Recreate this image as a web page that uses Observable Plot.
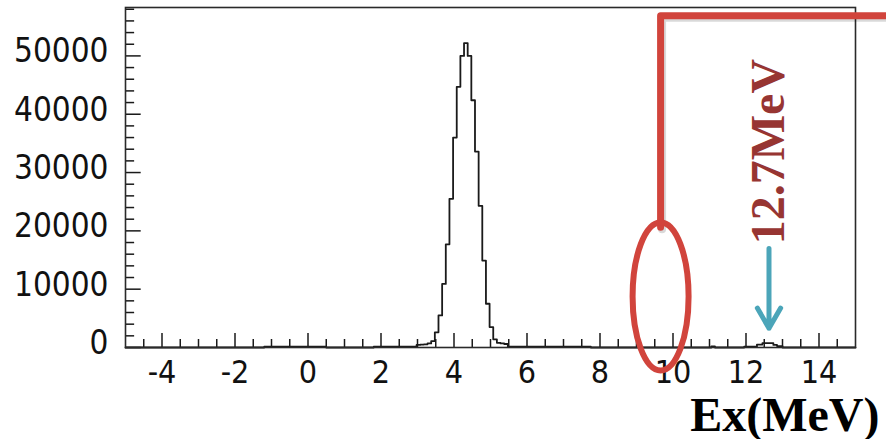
<!DOCTYPE html>
<html><head><meta charset="utf-8">
<script src="https://cdn.jsdelivr.net/npm/d3@7"></script>
<script src="https://cdn.jsdelivr.net/npm/@observablehq/plot@0.6"></script>
<style>
html,body{margin:0;padding:0;background:#fff;}
#chart svg{display:block;overflow:visible;}
</style></head><body><div id="chart"></div>
<script>
// Histogram bins (left edges, MeV) and counts
const binEdges = [-5.0,-1.2,0.5,1.8,2.975,3.075,3.175,3.275,3.375,3.475,3.575,3.675,3.775,3.875,3.975,4.075,4.175,4.275,4.375,4.475,4.575,4.675,4.775,4.875,4.975,5.075,5.175,5.275,5.375,5.475,7.75,11.05,11.15,11.95,12.3,12.45,12.75,12.85,13.0,15.0];
const binCounts = [0,150,0,150,450,500,550,700,1100,2600,5500,10900,17700,25500,36000,44700,50000,52200,50000,42400,33600,24300,14900,7500,3500,1400,800,700,600,150,0,200,0,150,500,750,450,250,0,0];
// Axis tick labels
const xTickLabels = [-4,-2,0,2,4,6,8,10,12,14];
const yTickLabels = [0,10000,20000,30000,40000,50000];
// Annotations
const axisTitle = "Ex(MeV)";
const peakLabel = "12.7MeV";
const peakArrowX = 12.63;
const markerX = 9.66;
const bracketPts = [{x: markerX, y: 20600}, {x: markerX, y: 56900}, {x: 15.9, y: 56900}];

const hist = binEdges.map((e, i) => ({x: e, y: binCounts[i]}));
const xMinor = d3.range(-4.5, 15, 0.5).filter(v => !xTickLabels.includes(v));
const yMinor = d3.range(2000, 58300, 2000).filter(v => v % 10000 !== 0);
const red = "#d1443c", teal = "#4ba5b9", darkRed = "#973532", ink = "#1a1a1a";

const ellipseSymbol = {draw(ctx) {
  const rx = 28, ry = 74, k = 0.5523;
  ctx.moveTo(rx, 0);
  ctx.bezierCurveTo(rx, ry * k, rx * k, ry, 0, ry);
  ctx.bezierCurveTo(-rx * k, ry, -rx, ry * k, -rx, 0);
  ctx.bezierCurveTo(-rx, -ry * k, -rx * k, -ry, 0, -ry);
  ctx.bezierCurveTo(rx * k, -ry, rx, -ry * k, rx, 0);
  ctx.closePath();
}};

const chart = Plot.plot({
  width: 886, height: 439,
  marginLeft: 125, marginRight: 31, marginTop: 7, marginBottom: 92,
  x: {domain: [-5, 15], label: null},
  y: {domain: [0, 58300], label: null},
  style: {fontFamily: "'DejaVu Sans Condensed', 'DejaVu Sans', sans-serif", background: "#fff", color: "#111"},
  marks: [
    Plot.ruleX(xTickLabels, {x: d => d, y1: 0, y2: 2400, stroke: ink, strokeWidth: 1.5}),
    Plot.ruleX(xMinor, {x: d => d, y1: 0, y2: 1370, stroke: ink, strokeWidth: 1.5}),
    Plot.ruleY(yTickLabels, {y: d => d, x1: -5, x2: -5 + 0.43, stroke: ink, strokeWidth: 1.5}),
    Plot.ruleY(yMinor, {y: d => d, x1: -5, x2: -5 + 0.25, stroke: ink, strokeWidth: 1.5}),
    Plot.axisX(xTickLabels, {tickSize: 0, tickPadding: 13, fontSize: 32, tickFormat: d => String(d), label: null}),
    Plot.axisY(yTickLabels, {tickSize: 0, tickPadding: 17, fontSize: 33, tickFormat: d => String(d), label: null, dy: -4}),
    Plot.line(hist, {x: "x", y: "y", curve: "step-after", stroke: ink, strokeWidth: 1.8}),
    Plot.frame({stroke: "#2a2a2a", strokeWidth: 1.6}),
    // faint shadow copy, then the bracket itself
    Plot.line(bracketPts, {x: "x", y: "y", stroke: "#000", strokeOpacity: 0.15, strokeWidth: 8, strokeLinejoin: "round", dx: 1.5, dy: 2}),
    Plot.line(bracketPts, {x: "x", y: "y", stroke: red, strokeWidth: 7, strokeLinejoin: "round"}),
    Plot.dot([{x: markerX, y: 8750}], {x: "x", y: "y", symbol: ellipseSymbol, r: 10, stroke: red, strokeWidth: 6, fill: "none", ariaLabel: "ellipse"}),
    Plot.arrow([{x: peakArrowX, y1: 16980, y2: 3300}], {x1: "x", x2: "x", y1: "y1", y2: "y2", stroke: teal, strokeWidth: 5, headLength: 7, headAngle: 60, ariaLabel: "pointer"}),
    Plot.text([{x: peakArrowX, y: 33600, t: peakLabel}], {x: "x", y: "y", text: "t", rotate: -90, fontSize: 48, fontWeight: "bold", fontFamily: "'Liberation Serif', 'Times New Roman', serif", fill: darkRed, textAnchor: "middle", lineAnchor: "middle"}),
    Plot.text([axisTitle], {frameAnchor: "bottom-right", text: d => d, dx: 24, dy: 83, textAnchor: "end", lineAnchor: "bottom", fontSize: 48, fontWeight: "bold", fontFamily: "'Liberation Serif', 'Times New Roman', serif", fill: "#000"})
  ]
});
const svg = d3.select(chart);
svg.insert("defs", ":first-child").html('<filter id="shadow" filterUnits="userSpaceOnUse" x="0" y="0" width="900" height="450"><feDropShadow dx="1.5" dy="2" stdDeviation="1.5" flood-color="#000" flood-opacity="0.3"/></filter>');
svg.selectAll('g[aria-label="ellipse"], g[aria-label="pointer"]').attr("filter", "url(#shadow)");
document.getElementById("chart").appendChild(chart);
</script></body></html>
